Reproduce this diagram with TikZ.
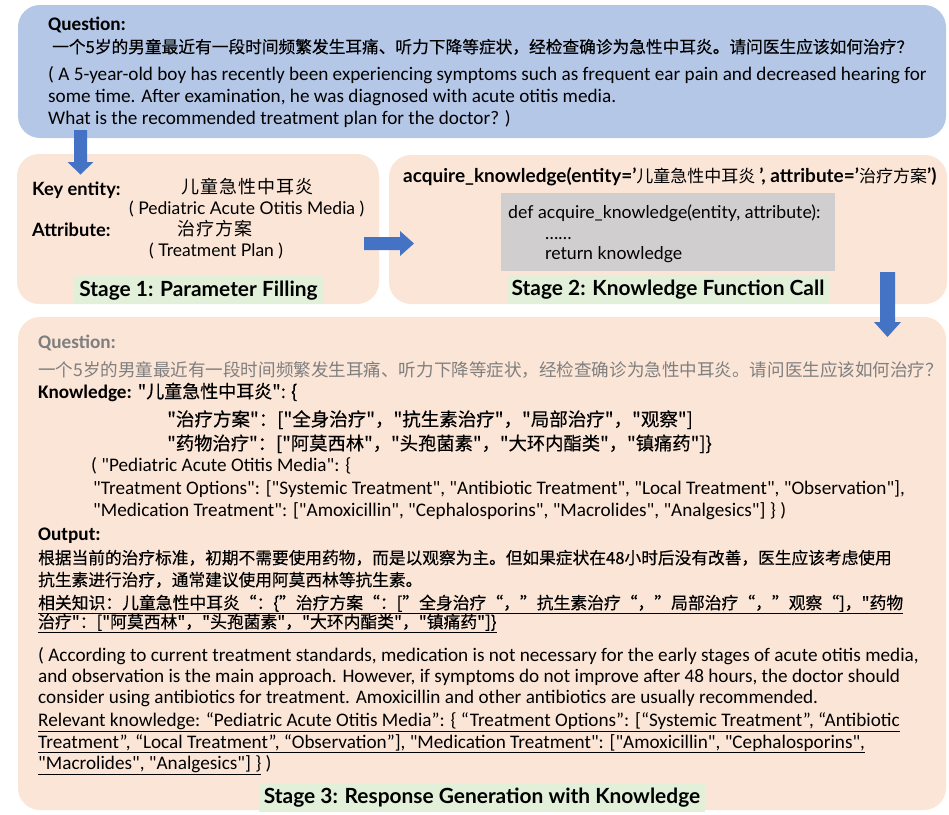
\documentclass[tikz,border=0pt]{standalone}
\usepackage{fontspec}
\setmainfont{Carlito}[Ligatures=TeXOff]
\newfontfamily\cjk{Noto Sans CJK SC}[Ligatures=TeXOff]
\newfontfamily\cjkb{Noto Sans CJK SC}[Ligatures=TeXOff,FakeBold=0.4]
\newfontfamily\labfont{Lato}
\definecolor{qblue}{HTML}{B4C7E7}
\definecolor{peach}{HTML}{FBE5D6}
\definecolor{lgreen}{HTML}{E2F0D9}
\definecolor{agray}{HTML}{D0CECE}
\definecolor{ablue}{HTML}{4472C4}
\definecolor{qgray}{HTML}{7F7F7F}
\newcommand\fs[1]{\fontsize{#1}{#1}\selectfont}
\newcommand\lowered[1]{\raisebox{-3pt}{#1}}
\begin{document}
\begin{tikzpicture}[x=1pt,y=-1pt,
  txt/.style={anchor=west,inner sep=0pt,text height=0.75em,text depth=0.25em,yshift=-3.5pt,font=\fs{19.2}},
  panel/.style={fill=#1,rounded corners=22pt,inner sep=0pt},
  stagelab/.style={fill=lgreen,inner sep=0pt,font=\fs{20.9}\labfont\bfseries,text height=0.75em,text depth=0.09em},
  blockarrow/.style={fill=ablue}]
\useasboundingbox (0,0) rectangle (949,814);
% panels
\node[panel=qblue,minimum width=928pt,minimum height=133pt] (qbox) at (482,71.5) {};
\node[panel=peach,minimum width=362pt,minimum height=150pt] (s1) at (198,229) {};
\node[panel=peach,minimum width=558pt,minimum height=149pt] (s2) at (668,229.5) {};
\node[panel=peach,minimum width=928pt,minimum height=493pt] (s3) at (482,563.5) {};
% question box
\node[txt,font=\fs{19.2}\bfseries] (qh) at (48,24) {Question:};
\node[txt,font=\fs{16.7}\cjkb] (qc) at (52,47) {一个5岁的男童最近有一段时间频繁发生耳痛、听力下降等症状，经检查确诊为急性中耳炎。请问医生应该如何治疗？};
\node[txt] (qe1) at (48,74) {( A 5-year-old boy has recently been experiencing symptoms such as frequent ear pain and decreased hearing for};
\node[txt] (qe2) at (48,96) {some time. After examination, he was diagnosed with acute otitis media.};
\node[txt] (qe3) at (48,118) {What is the recommended treatment plan for the doctor? )};
% stage 1
\node[txt,font=\fs{18.3}\labfont\bfseries] (ke) at (32,189) {Key entity:};
\node[txt,font=\fs{18}\cjk,text height=0.8em] (kec) at (181,187) {儿\hspace{1pt}童\hspace{1pt}急\hspace{1pt}性\hspace{1pt}中\hspace{1pt}耳\hspace{1pt}炎};
\node[txt,font=\fs{17.5}\labfont] (kee) at (129,208) {( Pediatric Acute Otitis Media )};
\node[txt,font=\fs{18.3}\labfont\bfseries] (at) at (32,230) {Attribute:};
\node[txt,font=\fs{18}\cjk,text height=0.8em] (atc) at (177,229) {治\hspace{1pt}疗\hspace{1pt}方\hspace{1pt}案};
\node[txt,font=\fs{17.5}\labfont] (ate) at (149,250) {( Treatment Plan )};
\node[stagelab,minimum width=249pt,minimum height=28pt] (l1) at (198.5,290) {\lowered{Stage 1: Parameter Filling}};
% stage 2
\node[txt,font=\fs{19}] (call) at (403,176) {{\labfont\bfseries acquire\_knowledge(entity=’}{\cjk\fs{17}儿童急性中耳炎 }{\labfont\bfseries ’, attribute=’}{\cjk\fs{17}治疗方案}{\labfont\bfseries ’)}};
\node[fill=agray,inner sep=0pt,minimum width=334pt,minimum height=78pt] (code) at (668,232) {};
\node[txt,font=\fs{17.7}\labfont] (c1) at (508,212) {def acquire\_knowledge(entity, attribute):};
\node[txt,font=\fs{17.7}\labfont] (c2) at (545,233) {\dots\dots};
\node[txt,font=\fs{17.7}\labfont] (c3) at (545,253) {return knowledge};
\node[stagelab,minimum width=322pt,minimum height=29pt] (l2) at (668,289.5) {\lowered{Stage 2: Knowledge Function Call}};
% stage 3
\node[txt,font=\fs{19.2}\bfseries,text=qgray] (q3h) at (38,342) {Question:};
\node[txt,font=\fs{17.55}\cjk,text=qgray] (q3c) at (38,370) {一个5岁的男童最近有一段时间频繁发生耳痛、听力下降等症状，经检查确诊为急性中耳炎。请问医生应该如何治疗？};
\node[txt] (kn) at (38,392) {{\bfseries Knowledge:} {\cjkb\fs{18}"儿童急性中耳炎": \{}};
\node[txt,font=\fs{18.5}\cjkb] (kn1) at (167,420) {"治疗方案"：["全身治疗"，"抗生素治疗"，"局部治疗"，"观察"]};
\node[txt,font=\fs{18.3}\cjkb] (kn2) at (167,444) {"药物治疗"：["阿莫西林"，"头孢菌素"，"大环内酯类"，"镇痛药"]\}};
\node[txt] (ke1) at (91,465) {( "Pediatric Acute Otitis Media": \{};
\node[txt] (ke2) at (93,488) {"Treatment Options": ["Systemic Treatment", "Antibiotic Treatment", "Local Treatment", "Observation"],};
\node[txt] (ke3) at (93,510) {"Medication Treatment": ["Amoxicillin", "Cephalosporins", "Macrolides", "Analgesics"] \} )};
\node[txt,font=\fs{19.2}\bfseries] (oh) at (38,534) {Output:};
\node[txt,font=\fs{16.7}\cjkb] (o1) at (38,558) {根据当前的治疗标准，初期不需要使用药物，而是以观察为主。但如果症状在48小时后没有改善，医生应该考虑使用};
\node[txt,font=\fs{16.7}\cjkb] (o2) at (38,580) {抗生素进行治疗，通常建议使用阿莫西林等抗生素。};
\node[txt,font=\fs{16.8}\cjkb] (o3) at (38,603) {\underline{相关知识：儿童急性中耳炎“：\{”治疗方案“：[”全身治疗“，”抗生素治疗“，”局部治疗“，”观察“]，"药物}};
\node[txt,font=\fs{16.8}\cjkb] (o4) at (38,622) {\underline{治疗"：["阿莫西林"，"头孢菌素"，"大环内酯类"，"镇痛药"]\}}};
\node[txt] (e1) at (38,655) {( According to current treatment standards, medication is not necessary for the early stages of acute otitis media,};
\node[txt] (e2) at (38,676) {and observation is the main approach. However, if symptoms do not improve after 48 hours, the doctor should};
\node[txt] (e3) at (38,697) {consider using antibiotics for treatment. Amoxicillin and other antibiotics are usually recommended.};
\node[txt] (e4) at (38,720) {\underline{Relevant knowledge: “Pediatric Acute Otitis Media”: \{ “Treatment Options”: [“Systemic Treatment”, “Antibiotic}};
\node[txt] (e5) at (38,742) {\underline{Treatment”, “Local Treatment”, “Observation”], "Medication Treatment": ["Amoxicillin", "Cephalosporins",}};
\node[txt] (e6) at (38,763) {\underline{"Macrolides", "Analgesics"] \}} )};
\node[stagelab,minimum width=446pt,minimum height=29pt] (l3) at (482,797) {\lowered{Stage 3: Response Generation with Knowledge}};
% block arrows
\fill[blockarrow] (74,130) -- (87,130) -- (87,162) -- (93.5,162) -- (80.5,174.5) -- (67.5,162) -- (74,162) -- cycle;
\fill[blockarrow] (364,237) -- (400,237) -- (400,231) -- (414,243.5) -- (400,256) -- (400,250) -- (364,250) -- cycle;
\fill[blockarrow] (880,272) -- (895,272) -- (895,322) -- (901,322) -- (887.5,337) -- (874,322) -- (880,322) -- cycle;
\end{tikzpicture}
\end{document}
